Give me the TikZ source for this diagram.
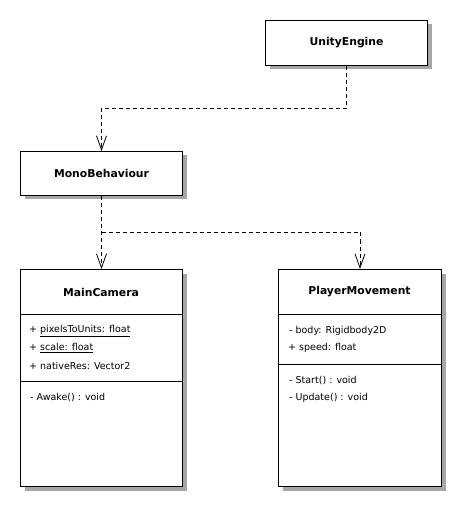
\documentclass[tikz,border=0pt]{standalone}
\usepackage{fontspec}
\setmainfont{DejaVu Sans}
\usetikzlibrary{arrows.meta,shadows}
\begin{document}
\begin{tikzpicture}[x=1pt,y=-1pt,
  box/.style={draw, line width=1pt, fill=white, inner sep=0pt, anchor=north west,
    drop shadow={shadow xshift=4pt, shadow yshift=-4pt, fill=black!35, opacity=1}},
  title/.style={font=\fontsize{10.8}{12}\selectfont\bfseries, inner sep=0pt},
  member/.style={font=\fontsize{9.5}{11}\selectfont, inner sep=0pt, anchor=west},
  sep/.style={line width=1pt},
  dep/.style={line width=0.8pt, dash pattern=on 4pt off 3pt,
    -{Straight Barb[length=14pt, width=10pt, line width=0.8pt]}}]
\useasboundingbox (0,0) rectangle (465,510);
% boxes
\node[box, minimum width=162pt, minimum height=45pt] (ue) at (265,20) {};
\node[title] (uet) at (ue.center) {UnityEngine};
\node[box, minimum width=162pt, minimum height=44pt] (mb) at (20,151) {};
\node[title] (mbt) at (mb.center) {MonoBehaviour};
\node[box, minimum width=162pt, minimum height=217pt] (mc) at (20,269) {};
\node[title] (mct) at (101,292) {MainCamera};
\node[box, minimum width=163pt, minimum height=217pt] (pm) at (278,269) {};
\node[title] (pmt) at (359.5,292) {PlayerMovement};
% separators
\draw[sep] (mc.west |- 0,314) -- (mc.east |- 0,314);
\draw[sep] (mc.west |- 0,381) -- (mc.east |- 0,381);
\draw[sep] (pm.west |- 0,314) -- (pm.east |- 0,314);
\draw[sep] (pm.west |- 0,364) -- (pm.east |- 0,364);
% members
\node[member] (mc1) at (29,331) {+ \underline{pixelsToUnits: float}};
\node[member] (mc2) at (29,348) {+ \underline{scale: float}};
\node[member] (mc3) at (29,366) {+ nativeRes: Vector2};
\node[member] (mc4) at (30,398) {- Awake() : void};
\node[member] (pm1) at (289,331) {- body: Rigidbody2D};
\node[member] (pm2) at (288,348) {+ speed: float};
\node[member] (pm3) at (289,381) {- Start() : void};
\node[member] (pm4) at (289,398) {- Update() : void};
% connectors
\coordinate (k1) at (0,108);
\coordinate (k2) at (0,232);
\draw[dep] (ue.south) -- (ue.south |- k1) -| (mb.north);
\draw[dep] (mb.south) -- (mc.north);
\draw[dep] (mb.south |- k2) -| (pm.north);
\end{tikzpicture}
\end{document}
